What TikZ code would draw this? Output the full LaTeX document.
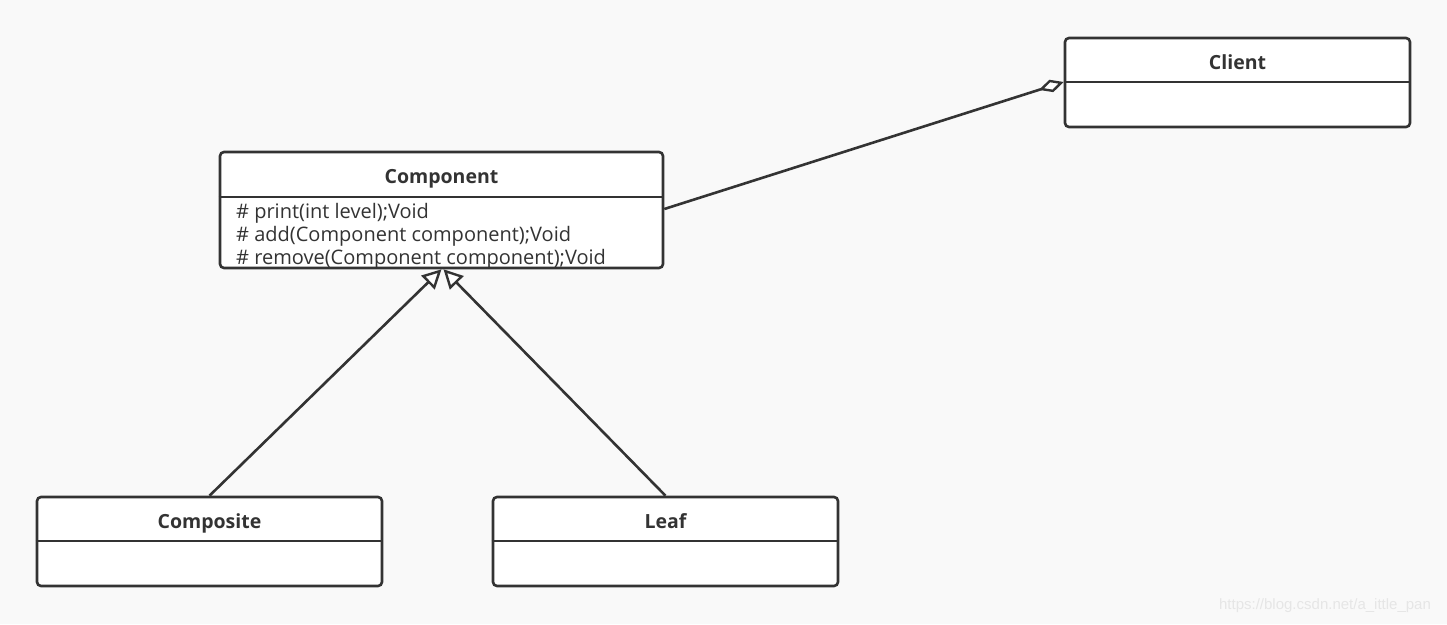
\documentclass[tikz,border=0pt]{standalone}
\usepackage{fontspec}
\setmainfont{Open Sans}
\newfontfamily\wmfont{Liberation Sans}
\usetikzlibrary{arrows.meta}
\definecolor{lc}{HTML}{333333}
\definecolor{bg}{HTML}{F9F9F9}
\definecolor{wm}{HTML}{E6E6E6}
\begin{document}
\begin{tikzpicture}[x=1pt,y=-1pt,
  cls/.style={draw=lc, line width=2.6pt, fill=white, rounded corners=4pt, inner sep=0pt, minimum width=345pt, minimum height=89pt},
  conn/.style={draw=lc, line width=2.6pt},
  ttl/.style={font=\bfseries\fontsize{19.5}{22}\selectfont, text=lc, anchor=base, inner sep=0pt},
  meth/.style={font=\fontsize{20}{22}\selectfont, text=lc, anchor=base west, inner sep=0pt},
  inh/.style={-{Triangle[open, length=19pt, width=19pt, fill=white, line width=2.4pt]}},
  agg/.style={-{Diamond[open, length=26pt, width=13pt, fill=white, line width=2.4pt]}}
]
\fill[bg] (0,0) rectangle (1447,624);
\useasboundingbox (0,0) rectangle (1447,624);
% Client
\node[cls] (client) at (1237.5,82.5) {};
\draw[conn] (client.west |- 0,82) coordinate (cdl) -- (client.east |- 0,82);
\node[ttl] (clientt) at (1237.5,69) {Client};
% Component
\node[cls, minimum width=443pt, minimum height=116pt] (comp) at (441.5,210) {};
\draw[conn] (comp.west |- 0,197) -- (comp.east |- 0,197);
\node[ttl] (compt) at (441.5,183) {Component};
\node[meth] (m1) at (236,218) {\# print(int level);Void};
\node[meth] (m2) at (236,241) {\# add(Component component);Void};
\node[meth] (m3) at (236,264) {\# remove(Component component);Void};
% Composite
\node[cls] (composite) at (209.5,541.5) {};
\draw[conn] (composite.west |- 0,541) -- (composite.east |- 0,541);
\node[ttl] (compositet) at (209.5,528) {Composite};
% Leaf
\node[cls] (leaf) at (665.5,541.5) {};
\draw[conn] (leaf.west |- 0,541) -- (leaf.east |- 0,541);
\node[ttl] (leaft) at (665.5,528) {Leaf};
% connectors
\coordinate (compr) at (comp.east |- 0,209);
\draw[conn, agg] (compr) -- (cdl);
\draw[conn, inh] (composite.north) -- ([xshift=0pt]comp.south);
\draw[conn, inh] (leaf.north) -- ([xshift=2pt]comp.south);
% watermark
\node[font=\wmfont\fontsize{15}{18}\selectfont, text=wm] (wmk) at (1325,606) {https://blog.csdn.net/a\_ittle\_pan};
\end{tikzpicture}
\end{document}
